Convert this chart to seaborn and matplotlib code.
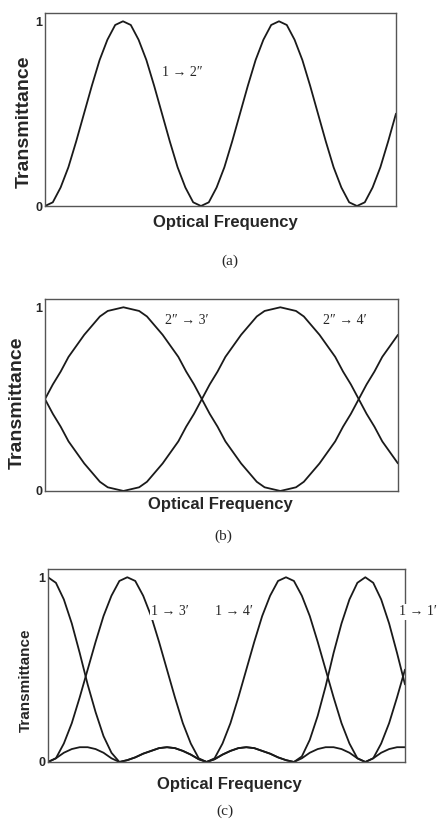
import numpy as np
import pandas as pd
import matplotlib
matplotlib.use('Agg')
import matplotlib.pyplot as plt
import seaborn as sns

# optical frequency, arbitrary units (one unit = one period in panel a)
freq = np.arange(46) * 0.05

# (a) 1 -> 2''
trans_a = [0.00, 0.02, 0.10, 0.21, 0.35, 0.50, 0.65, 0.79, 0.90, 0.98,
           1.00, 0.98, 0.90, 0.79, 0.65, 0.50, 0.35, 0.21, 0.10, 0.02,
           0.00, 0.02, 0.10, 0.21, 0.35, 0.50, 0.65, 0.79, 0.90, 0.98,
           1.00, 0.98, 0.90, 0.79, 0.65, 0.50, 0.35, 0.21, 0.10, 0.02,
           0.00, 0.02, 0.10, 0.21, 0.35, 0.50]

# (b) 2'' -> 3' and 2'' -> 4'
trans_b_23 = [0.50, 0.58, 0.65, 0.73, 0.79, 0.85, 0.90, 0.95, 0.98, 0.99,
              1.00, 0.99, 0.98, 0.95, 0.90, 0.85, 0.79, 0.73, 0.65, 0.58,
              0.50, 0.42, 0.35, 0.27, 0.21, 0.15, 0.10, 0.05, 0.02, 0.01,
              0.00, 0.01, 0.02, 0.05, 0.10, 0.15, 0.21, 0.27, 0.35, 0.42,
              0.50, 0.58, 0.65, 0.73, 0.79, 0.85]
trans_b_24 = [0.50, 0.42, 0.35, 0.27, 0.21, 0.15, 0.10, 0.05, 0.02, 0.01,
              0.00, 0.01, 0.02, 0.05, 0.10, 0.15, 0.21, 0.27, 0.35, 0.42,
              0.50, 0.58, 0.65, 0.73, 0.79, 0.85, 0.90, 0.95, 0.98, 0.99,
              1.00, 0.99, 0.98, 0.95, 0.90, 0.85, 0.79, 0.73, 0.65, 0.58,
              0.50, 0.42, 0.35, 0.27, 0.21, 0.15]

# (c) 1 -> 3', 1 -> 4', 1 -> 1'
trans_c_peak = [1.00, 0.97, 0.88, 0.75, 0.59, 0.42, 0.27, 0.14, 0.05, 0.00,
                0.01, 0.025, 0.045, 0.06, 0.075, 0.08, 0.075, 0.06, 0.04, 0.015,
                0.00, 0.015, 0.04, 0.06, 0.075, 0.08, 0.075, 0.06, 0.045, 0.025,
                0.01, 0.00, 0.03, 0.12, 0.25, 0.41, 0.59, 0.75, 0.88, 0.97,
                1.00, 0.97, 0.88, 0.75, 0.59, 0.42]
trans_c_sin = [0.00, 0.02, 0.10, 0.21, 0.35, 0.50, 0.65, 0.79, 0.90, 0.98,
               1.00, 0.98, 0.90, 0.79, 0.65, 0.50, 0.35, 0.21, 0.10, 0.02,
               0.00, 0.02, 0.10, 0.21, 0.35, 0.50, 0.65, 0.79, 0.90, 0.98,
               1.00, 0.98, 0.90, 0.79, 0.65, 0.50, 0.35, 0.21, 0.10, 0.02,
               0.00, 0.02, 0.10, 0.21, 0.35, 0.50]
trans_c_low = [0.00, 0.02, 0.05, 0.07, 0.08, 0.08, 0.07, 0.05, 0.02, 0.00,
               0.01, 0.025, 0.045, 0.06, 0.075, 0.08, 0.075, 0.06, 0.04, 0.015,
               0.00, 0.015, 0.04, 0.06, 0.075, 0.08, 0.075, 0.06, 0.045, 0.025,
               0.01, 0.00, 0.02, 0.05, 0.07, 0.08, 0.08, 0.07, 0.05, 0.02,
               0.00, 0.02, 0.05, 0.07, 0.08, 0.08]

SANS = ['Liberation Sans', 'DejaVu Sans']
SERIF = ['Liberation Serif', 'DejaVu Serif']
LINE = '#1a1a1a'
SPINE = '#555555'

sns.set_style('white')
plt.rcParams['font.family'] = SANS

fig = plt.figure(figsize=(4.39, 8.26), dpi=100)

panels = [
    # rect, curves, xticks, curve labels, ylabel font, ylabel pos, xlabel pos, tag pos
    dict(rect=[0.1025, 0.7506, 0.7995, 0.2337],
         curves=[trans_a], xticks=[0.5, 1.0, 1.5, 2.0],
         notes=[(0.75, 0.725, '1 → 2″')],
         yl_size=14, yl_pos=(0.055, 0.852), xl_pos=(0.5125, 0.731),
         tag='(a)', tag_pos=(0.524, 0.684)),
    dict(rect=[0.1025, 0.4056, 0.8040, 0.2324],
         curves=[trans_b_23, trans_b_24], xticks=[0.67, 1.33, 2.0],
         notes=[(0.765, 0.927, '2″ → 3′'), (1.77, 0.927, '2″ → 4′')],
         yl_size=14, yl_pos=(0.040, 0.513), xl_pos=(0.501, 0.389),
         tag='(b)', tag_pos=(0.508, 0.351)),
    dict(rect=[0.1093, 0.0775, 0.8132, 0.2337],
         curves=[trans_c_peak, trans_c_sin, trans_c_low], xticks=[0.5, 1.0, 1.5, 2.0],
         notes=[(0.65, 0.814, '1 → 3′'), (1.05, 0.814, '1 → 4′'), (2.21, 0.814, '1 → 1′')],
         yl_size=11, yl_pos=(0.060, 0.177), xl_pos=(0.522, 0.050),
         tag='(c)', tag_pos=(0.513, 0.018)),
]

for p in panels:
    ax = fig.add_axes(p['rect'])
    for vals in p['curves']:
        df = pd.DataFrame({'freq': freq, 'T': vals})
        sns.lineplot(data=df, x='freq', y='T', color=LINE, lw=1.3, ax=ax)
    ax.set_xlim(0, 2.25)
    ax.set_ylim(0, 1.045)
    ax.set_xticks(p['xticks'])
    ax.set_xticklabels([])
    ax.set_yticks([0, 1])
    ax.set_yticklabels(['0', '1'], fontweight='bold', fontsize=9)
    ax.tick_params(direction='in', length=3, width=0.8, color=SPINE, pad=2)
    ax.set_xlabel('')
    ax.set_ylabel('')
    for s in ax.spines.values():
        s.set_visible(True)
        s.set_color(SPINE)
        s.set_linewidth(1.0)
    for x, y, txt in p['notes']:
        ax.text(x, y, txt, family=SERIF, fontsize=10, ha='left', va='center',
                zorder=5, bbox=dict(boxstyle='square,pad=0.1', fc='white', ec='none'))
    fig.text(p['yl_pos'][0], p['yl_pos'][1], 'Transmittance', rotation=90,
             fontsize=p['yl_size'], fontweight='bold', ha='center', va='center')
    fig.text(p['xl_pos'][0], p['xl_pos'][1], 'Optical Frequency',
             fontsize=12, fontweight='bold', ha='center', va='center')
    fig.text(p['tag_pos'][0], p['tag_pos'][1], p['tag'], family=SERIF,
             fontsize=11, ha='center', va='center')

fig.savefig('out.png', dpi=100)
